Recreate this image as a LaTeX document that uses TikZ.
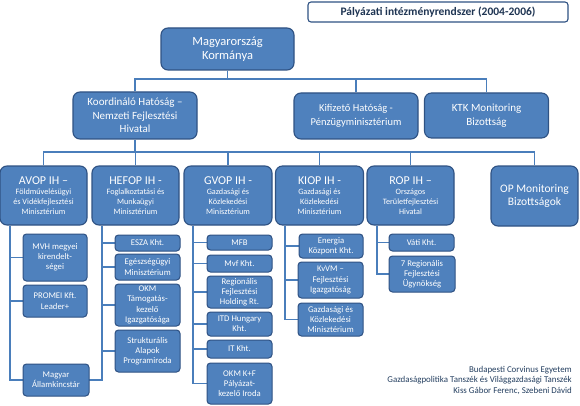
\documentclass[tikz,border=0pt]{standalone}
\usepackage{fontspec}
\setmainfont{Carlito}
\usetikzlibrary{backgrounds}
\definecolor{boxfill}{HTML}{4F81BD}
\definecolor{boxline}{HTML}{2F5283}
\definecolor{connline}{HTML}{4A7EBB}
\definecolor{titletext}{HTML}{1F3553}
\definecolor{foottext}{HTML}{243F60}
\tikzset{
  bigbox/.style={draw=boxline, fill=boxfill, line width=1.1pt, rounded corners=7pt,
    text=white, align=center, inner sep=0pt, font=\fontsize{11}{13.5}\selectfont},
  midbox/.style={draw=boxline, fill=boxfill, line width=1.1pt, rounded corners=7pt,
    text=white, align=center, inner sep=0pt, font=\fontsize{8.2}{10}\selectfont},
  smallbox/.style={draw=boxline, fill=boxfill, line width=1pt, rounded corners=3.5pt,
    text=white, align=center, inner sep=0pt, font=\fontsize{8.7}{10.2}\selectfont},
  conn/.style={draw=connline, line width=1.3pt},
  titlebox/.style={draw=boxline, fill=white, line width=1.1pt, rounded corners=3pt,
    text=titletext, inner sep=0pt, font=\fontsize{11.5}{13}\selectfont\bfseries},
  foot/.style={text=foottext, align=right, anchor=north east, inner sep=0pt,
    font=\fontsize{8.9}{10.6}\selectfont}
}
\begin{document}
\begin{tikzpicture}[x=1pt,y=-1pt]
\useasboundingbox (0,0) rectangle (580,406);
% title
\node[titlebox, minimum width=260pt, minimum height=20pt] (title) at (438,12) {Pályázati intézményrendszer (2004-2006)};
% level 0/1
\node[bigbox, font=\fontsize{12.5}{14.5}\selectfont, minimum width=133pt, minimum height=42pt] (korm) at (227.5,49) {Magyarország\\Kormánya};
\node[bigbox, minimum width=124pt, minimum height=47pt] (koord) at (135,115.5) {Koordináló Hatóság –\\Nemzeti Fejlesztési\\Hivatal};
\node[bigbox, font=\fontsize{10.5}{14}\selectfont, minimum width=124pt, minimum height=46pt] (kifiz) at (356,116) {Kifizető Hatóság -\\Pénzügyminisztérium};
\node[bigbox, minimum width=124pt, minimum height=45pt] (ktk) at (486.5,115.5) {KTK Monitoring\\Bizottság};
% level 2
\node[midbox, minimum width=87pt, minimum height=59pt] (avop) at (43.5,195.5) {{\fontsize{12}{13}\selectfont AVOP IH –}\\Földművelésügyi\\és Vidékfejlesztési\\Minisztérium};
\node[midbox, minimum width=87pt, minimum height=59pt] (hefop) at (135.5,195.5) {{\fontsize{12}{13}\selectfont HEFOP IH -}\\Foglalkoztatási és\\Munkaügyi\\Minisztérium};
\node[midbox, minimum width=88pt, minimum height=59pt] (gvop) at (228,195.5) {{\fontsize{12}{13}\selectfont GVOP IH -}\\Gazdasági és\\Közlekedési\\Minisztérium};
\node[midbox, minimum width=88pt, minimum height=59pt] (kiop) at (319.5,195.5) {{\fontsize{12}{13}\selectfont KIOP IH -}\\Gazdasági és\\Közlekedési\\Minisztérium};
\node[midbox, minimum width=87pt, minimum height=59pt] (rop) at (410.5,195.5) {{\fontsize{12}{13}\selectfont ROP IH –}\\Országos\\Területfejlesztési\\Hivatal};
\node[bigbox, font=\fontsize{11.5}{13.5}\selectfont, minimum width=87pt, minimum height=60pt] (opm) at (534.5,196) {OP Monitoring\\Bizottságok};
% level 3 - AVOP
\node[smallbox, minimum width=64pt, minimum height=47pt] (mvh) at (55,257.5) {MVH megyei\\kirendelt-\\ségei};
\node[smallbox, minimum width=64pt, minimum height=32pt] (promei) at (55,301) {PROMEI Kft.\\Leader+};
\node[smallbox, minimum width=66pt, minimum height=32pt] (magyar) at (56,380) {Magyar\\Államkincstár};
% HEFOP
\node[smallbox, minimum width=65pt, minimum height=16pt] (esza) at (147.5,243) {ESZA Kht.};
\node[smallbox, minimum width=65pt, minimum height=26pt] (egesz) at (147.5,267) {Egészségügyi\\Minisztérium};
\node[smallbox, minimum width=65pt, minimum height=42pt] (okm) at (147.5,305) {OKM\\Támogatás-\\kezelő\\Igazgatósága};
\node[smallbox, minimum width=65pt, minimum height=42pt] (strukt) at (147.5,351) {Strukturális\\Alapok\\Programiroda};
% GVOP
\node[smallbox, minimum width=65pt, minimum height=15pt] (mfb) at (239.5,242.5) {MFB};
\node[smallbox, minimum width=65pt, minimum height=17pt] (mvf) at (239.5,263.5) {Mvf Kht.};
\node[smallbox, minimum width=65pt, minimum height=32pt] (rfh) at (239.5,292) {Regionális\\Fejlesztési\\Holding Rt.};
\node[smallbox, minimum width=65pt, minimum height=24pt] (itd) at (239.5,324) {ITD Hungary\\Kht.};
\node[smallbox, minimum width=65pt, minimum height=18pt] (itk) at (239.5,349) {IT Kht.};
\node[smallbox, minimum width=65pt, minimum height=41pt] (okmkf) at (239.5,383.5) {OKM K+F\\Pályázat-\\kezelő Iroda};
% KIOP
\node[smallbox, minimum width=64pt, minimum height=24pt] (energia) at (331,246) {Energia\\Központ Kht.};
\node[smallbox, minimum width=65pt, minimum height=36pt] (kvvm) at (330.5,280) {KvVM –\\Fejlesztési\\Igazgatóság};
\node[smallbox, minimum width=65pt, minimum height=33pt] (gkm) at (330.5,319.5) {Gazdasági és\\Közlekedési\\Minisztérium};
% ROP
\node[smallbox, minimum width=65pt, minimum height=17pt] (vati) at (421.5,242.5) {Váti Kht.};
\node[smallbox, minimum width=66pt, minimum height=36pt] (rop7) at (422,274) {7 Regionális\\Fejlesztési\\Ügynökség};
% footer
\node[foot] (footer) at (572,366) {Budapesti Corvinus Egyetem\\Gazdaságpolitika Tanszék és Világgazdasági Tanszék\\Kiss Gábor Ferenc, Szebeni Dávid};
% connectors
\coordinate (h1) at (0,79);
\coordinate (h2) at (0,152);
\coordinate (xa) at (10,0);
\coordinate (xb) at (102,0);
\coordinate (xc) at (193,0);
\coordinate (xd) at (285,0);
\coordinate (xe) at (377,0);
\begin{scope}[on background layer]
\fill[white] (0,0) rectangle (580,406);
\draw[conn] (korm.south) -- (korm.south |- h1);
\draw[conn] (koord.north) |- (ktk.north |- h1) -- (ktk.north);
\draw[conn] (kifiz.north) -- (kifiz.north |- h1);
\draw[conn] (koord.south) -- (koord.south |- h2);
\draw[conn] (avop.north) |- (opm.north |- h2) -- (opm.north);
\draw[conn] (hefop.north) -- (hefop.north |- h2);
\draw[conn] (gvop.north) -- (gvop.north |- h2);
\draw[conn] (kiop.north) -- (kiop.north |- h2);
\draw[conn] (rop.north) -- (rop.north |- h2);
% AVOP + HEFOP trunks joined at Magyar Államkincstár
\draw[conn] (avop.south -| xa) |- (xb |- magyar.center) -- (hefop.south -| xb);
\draw[conn] (xa |- mvh.west) -- (mvh.west);
\draw[conn] (xa |- promei.west) -- (promei.west);
\draw[conn] (xb |- esza.west) -- (esza.west);
\draw[conn] (xb |- egesz.west) -- (egesz.west);
\draw[conn] (xb |- okm.west) -- (okm.west);
\draw[conn] (xb |- strukt.west) -- (strukt.west);
% GVOP
\draw[conn] (gvop.south -| xc) |- (okmkf.west);
\draw[conn] (xc |- mfb.west) -- (mfb.west);
\draw[conn] (xc |- mvf.west) -- (mvf.west);
\draw[conn] (xc |- rfh.west) -- (rfh.west);
\draw[conn] (xc |- itd.west) -- (itd.west);
\draw[conn] (xc |- itk.west) -- (itk.west);
% KIOP
\draw[conn] (kiop.south -| xd) |- (gkm.west);
\draw[conn] (xd |- energia.west) -- (energia.west);
\draw[conn] (xd |- kvvm.west) -- (kvvm.west);
% ROP
\draw[conn] (rop.south -| xe) |- (rop7.west);
\draw[conn] (xe |- vati.west) -- (vati.west);
\end{scope}
\end{tikzpicture}
\end{document}
